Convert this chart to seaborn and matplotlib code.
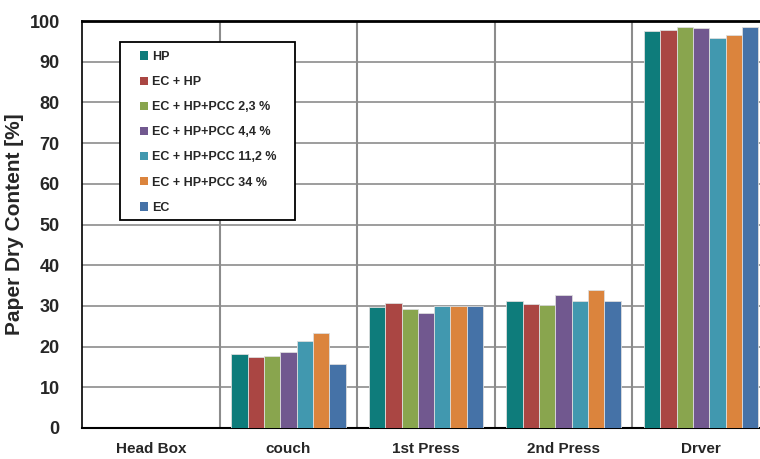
import pandas as pd
import matplotlib.pyplot as plt
import seaborn as sns
from matplotlib.patches import Rectangle

# Data
stages = ["Head Box", "couch", "1st Press", "2nd Press", "Drver"]
series = [
    "HP",
    "EC + HP",
    "EC + HP+PCC 2,3 %",
    "EC + HP+PCC 4,4 %",
    "EC + HP+PCC 11,2 %",
    "EC + HP+PCC 34 %",
    "EC",
]
hp = [0, 18.1, 29.8, 31.3, 97.6]
ec_hp = [0, 17.4, 30.6, 30.4, 97.9]
pcc_2_3 = [0, 17.8, 29.3, 30.1, 98.6]
pcc_4_4 = [0, 18.6, 28.2, 32.6, 98.4]
pcc_11_2 = [0, 21.3, 30.0, 31.3, 95.9]
pcc_34 = [0, 23.3, 30.0, 33.9, 96.6]
ec = [0, 15.7, 30.0, 31.3, 98.6]

colors = ["#0E7C7B", "#AA4643", "#89A54E", "#71588F", "#4198AF", "#DB843D", "#4572A7"]

values = [hp, ec_hp, pcc_2_3, pcc_4_4, pcc_11_2, pcc_34, ec]
rows = []
for name, vals in zip(series, values):
    for stage, v in zip(stages, vals):
        rows.append({"stage": stage, "series": name, "dry": v})
df = pd.DataFrame(rows)

sns.set_style("white")
plt.rcParams["font.family"] = ["Liberation Sans", "DejaVu Sans"]

W, H = 760, 459
fig = plt.figure(figsize=(W / 100, H / 100), dpi=100)
ax = fig.add_axes([82 / W, 31 / H, 688 / W, 407 / H])

sns.barplot(
    data=df,
    x="stage",
    y="dry",
    hue="series",
    order=stages,
    hue_order=series,
    palette=colors,
    saturation=1,
    width=0.83,
    edgecolor="#dddddd",
    linewidth=0.6,
    ax=ax,
    zorder=3,
)

ax.set_ylim(0, 100)
ax.set_xlim(-0.5, len(stages) - 0.5)
ax.set_yticks(range(0, 101, 10))
ax.set_xticks(range(len(stages)))
ax.set_xticks([i + 0.5 for i in range(len(stages) - 1)], minor=True)

ax.grid(axis="y", which="major", color="#8c8c8c", linewidth=1.2, zorder=0)
ax.grid(axis="x", which="minor", color="#8c8c8c", linewidth=1.5, zorder=0)
ax.set_axisbelow(True)

for side in ["left", "bottom", "top"]:
    ax.spines[side].set_color("black")
ax.spines["left"].set_linewidth(1.2)
ax.spines["bottom"].set_linewidth(1.5)
ax.spines["top"].set_linewidth(2)
ax.spines["right"].set_visible(False)

ax.tick_params(axis="both", which="both", length=0)
ax.tick_params(axis="y", labelsize=13, pad=16)
ax.tick_params(axis="x", labelsize=11, pad=10)
for lbl in ax.get_yticklabels() + ax.get_xticklabels():
    lbl.set_fontweight("bold")

ax.set_xlabel("")
ax.set_ylabel("Paper Dry Content [%]", fontsize=15, fontweight="bold", labelpad=4)

# legend without its own frame; the box is drawn separately to get Excel-like padding
sns.move_legend(
    ax,
    "upper left",
    bbox_to_anchor=(140 / W, 1 - 51 / H),
    bbox_transform=fig.transFigure,
    title=None,
    frameon=False,
    prop={"weight": "bold", "size": 9},
    handlelength=0.65,
    handleheight=0.65,
    handletextpad=0.35,
    labelspacing=1.05,
    borderpad=0,
    borderaxespad=0,
)
leg = ax.get_legend()
for h in leg.legend_handles:
    h.set_edgecolor("none")
leg.set_zorder(6)

ax.add_patch(
    Rectangle(
        (120 / W, 1 - 220 / H),
        175 / W,
        178 / H,
        transform=fig.transFigure,
        facecolor="white",
        edgecolor="black",
        linewidth=1.3,
        zorder=5,
        clip_on=False,
    )
)

fig.savefig("out.png", dpi=100)
